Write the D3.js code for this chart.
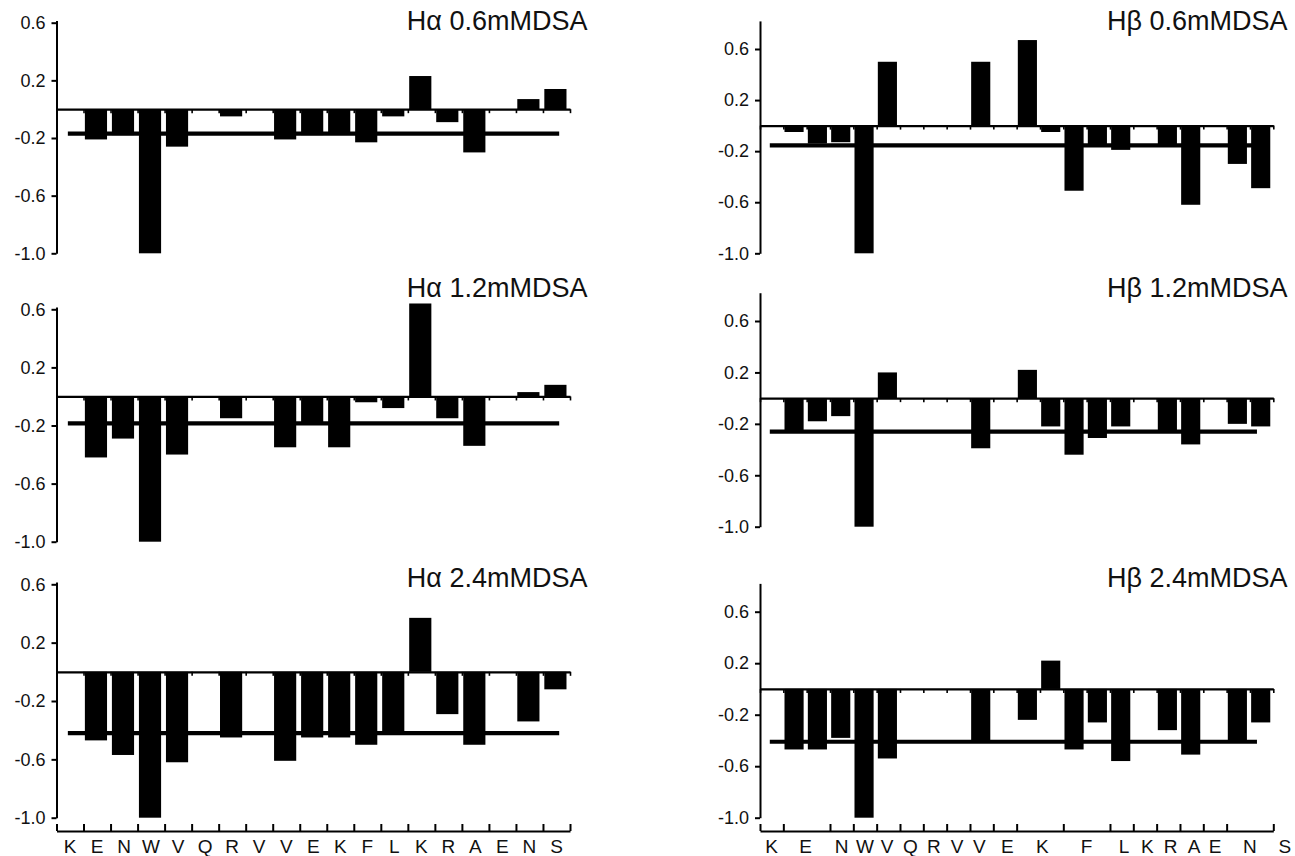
<!DOCTYPE html>
<html>
<head>
<meta charset="utf-8">
<script src="https://cdn.jsdelivr.net/npm/d3@7"></script>
<style>
  html, body { margin: 0; padding: 0; background: #fff; }
  svg { display: block; }
  text { font-family: "Liberation Sans", Arial, Helvetica, sans-serif; fill: #111; }
</style>
</head>
<body>
<svg id="chart" width="1295" height="856"></svg>
<script>
// ---------------- data ----------------
const leftLabels  = ["K","E","N","W","V","Q","R","V","V","E","K","F","L","K","R","A","E","N","S"];
const rightLabels = ["K","E","N","W","V","Q","R","V","V","E","K","F","L","K","R","A","E","N","S"];
// label positions on the right-hand axis (in residue-slot units, 22 slots)
const rightLabelSlots = [0.5, 1.95, 3.5, 4.5, 5.45, 6.45, 7.45, 8.45, 9.4, 10.6, 12.1, 14.0, 15.6, 16.6, 17.6, 18.6, 19.5, 21.0, 22.5];
const rightSlotCount = 22;
const rightHiddenTicks = [2, 12, 14, 21];

const yTicks = [0.6, 0.2, -0.2, -0.6, -1.0];
const yTickLabels = ["0.6", "0.2", "-0.2", "-0.6", "-1.0"];

const titles = ["Hα 0.6mMDSA", "Hα 1.2mMDSA", "Hα 2.4mMDSA", "Hβ 0.6mMDSA", "Hβ 1.2mMDSA", "Hβ 2.4mMDSA"];

// H-alpha series (19 residues, null = no bar)
const haDSA06 = [null, -0.21, -0.18, -1.0, -0.26, null, -0.05, null, -0.21, -0.18, -0.16, -0.23, -0.05, 0.23, -0.09, -0.30, null, 0.07, 0.14];
const haDSA12 = [null, -0.42, -0.29, -1.0, -0.40, null, -0.15, null, -0.35, -0.18, -0.35, -0.04, -0.08, 0.64, -0.15, -0.34, null, 0.03, 0.08];
const haDSA24 = [null, -0.47, -0.57, -1.0, -0.62, null, -0.45, null, -0.61, -0.45, -0.45, -0.50, -0.42, 0.37, -0.29, -0.50, null, -0.34, -0.12];
// H-beta series (22 slots)
const hbDSA06 = [null, -0.05, -0.14, -0.13, -1.0, 0.50, null, null, null, 0.50, null, 0.67, -0.05, -0.51, -0.15, -0.19, null, -0.15, -0.62, null, -0.30, -0.49];
const hbDSA12 = [null, -0.25, -0.18, -0.14, -1.0, 0.20, null, null, null, -0.39, null, 0.22, -0.22, -0.44, -0.31, -0.22, null, -0.25, -0.36, null, -0.20, -0.22];
const hbDSA24 = [null, -0.47, -0.47, -0.38, -1.0, -0.54, null, null, null, -0.41, null, -0.24, 0.22, -0.47, -0.26, -0.56, null, -0.32, -0.51, null, -0.41, -0.26];
// reference (threshold) levels
const haThresholds = [-0.17, -0.185, -0.42];
const hbThresholds = [-0.155, -0.26, -0.41];

// ---------------- layout ----------------
const svg = d3.select("#chart");
svg.append("rect").attr("width", 1295).attr("height", 856).attr("fill", "#fff");

const panels = [
  { side: "L", series: haDSA06, thr: haThresholds[0], title: titles[0], row: 0 },
  { side: "L", series: haDSA12, thr: haThresholds[1], title: titles[1], row: 1 },
  { side: "L", series: haDSA24, thr: haThresholds[2], title: titles[2], row: 2 },
  { side: "R", series: hbDSA06, thr: hbThresholds[0], title: titles[3], row: 0 },
  { side: "R", series: hbDSA12, thr: hbThresholds[1], title: titles[4], row: 1 },
  { side: "R", series: hbDSA24, thr: hbThresholds[2], title: titles[5], row: 2 },
];

const geom = {
  L: { x0: 56.5, x1: 570, slots: leftLabels.length, yTop: 0.615,
       rows: [[22.7, 253.3], [309.3, 541.7], [584.3, 817.7]],
       thrX: [0.42, 18.6], titleX: 587.5 },
  R: { x0: 760, x1: 1273.3, slots: rightSlotCount, yTop: 0.82,
       rows: [[49, 253.3], [321, 526.7], [611.7, 817.7]],
       thrX: [0.42, 21.3], titleX: 1287.5 }
};
const titleBaselines = [30, 297, 587];
const xAxisY = 831;

panels.forEach(p => {
  const g = geom[p.side];
  const [y06, yM1] = g.rows[p.row];
  const k = (yM1 - y06) / 1.6;
  const y = d3.scaleLinear().domain([-1.0, g.yTop]).range([yM1, yM1 - (g.yTop + 1) * k]);
  const x = d3.scaleLinear().domain([0, g.slots]).range([g.x0, g.x1]);
  const layer = svg.append("g");

  // bars
  const barData = p.series.map((v, i) => ({ v, i })).filter(d => d.v !== null);
  layer.selectAll("rect.bar").data(barData).enter().append("rect")
    .attr("class", "bar")
    .attr("x", d => x(d.i + 0.05))
    .attr("width", d => x(d.i + 0.87) - x(d.i + 0.05))
    .attr("y", d => y(Math.max(0, d.v)))
    .attr("height", d => Math.abs(y(d.v) - y(0)))
    .attr("fill", "#000");

  // zero line with small tick marks
  const zeroAxis = d3.axisBottom(x).tickValues(d3.range(0, g.slots + 1)).tickFormat("")
    .tickSize(4).tickSizeOuter(0);
  const zg = layer.append("g").attr("transform", `translate(0,${y(0)})`).call(zeroAxis);
  zg.select(".domain").attr("stroke", "#000").attr("stroke-width", 2.2);
  zg.selectAll(".tick line").attr("stroke", "#000").attr("stroke-width", 1.6);

  // threshold line
  layer.append("line")
    .attr("x1", x(g.thrX[0])).attr("x2", x(g.thrX[1]))
    .attr("y1", y(p.thr)).attr("y2", y(p.thr))
    .attr("stroke", "#000").attr("stroke-width", 4.2);

  // y axis
  const yAxis = d3.axisLeft(y).tickValues(yTicks).tickFormat((d, i) => yTickLabels[i])
    .tickSize(5).tickSizeOuter(0).tickPadding(6);
  const yg = layer.append("g").attr("transform", `translate(${g.x0},0)`).call(yAxis);
  yg.select(".domain").attr("stroke", "#000").attr("stroke-width", 2);
  yg.selectAll(".tick line").attr("stroke", "#000").attr("stroke-width", 2);
  yg.selectAll(".tick text").attr("font-size", 18).attr("fill", "#222")
    .attr("font-family", "'Liberation Sans', Arial, sans-serif");

  // title
  layer.append("text")
    .attr("x", g.titleX).attr("y", titleBaselines[p.row])
    .attr("text-anchor", "end").attr("font-size", 27)
    .text(p.title);

  // bottom category axis
  if (p.row === 2) {
    const tickVals = d3.range(0, g.slots + 1).filter(t => p.side === "L" || !rightHiddenTicks.includes(t));
    const xAxis = d3.axisBottom(x).tickValues(tickVals).tickFormat("").tickSize(-7).tickSizeOuter(0);
    const xg = layer.append("g").attr("transform", `translate(0,${xAxisY})`).call(xAxis);
    xg.select(".domain").attr("stroke", "#000").attr("stroke-width", 2);
    xg.selectAll(".tick line").attr("stroke", "#000").attr("stroke-width", 2);

    const labels = p.side === "L" ? leftLabels : rightLabels;
    const pos = p.side === "L" ? leftLabels.map((_, i) => i + 0.5) : rightLabelSlots;
    layer.selectAll("text.cat").data(labels).enter().append("text")
      .attr("class", "cat")
      .attr("x", (d, i) => x(pos[i]))
      .attr("y", 853)
      .attr("text-anchor", "middle")
      .attr("font-size", 19)
      .text(d => d);
  }
});
</script>
</body>
</html>
